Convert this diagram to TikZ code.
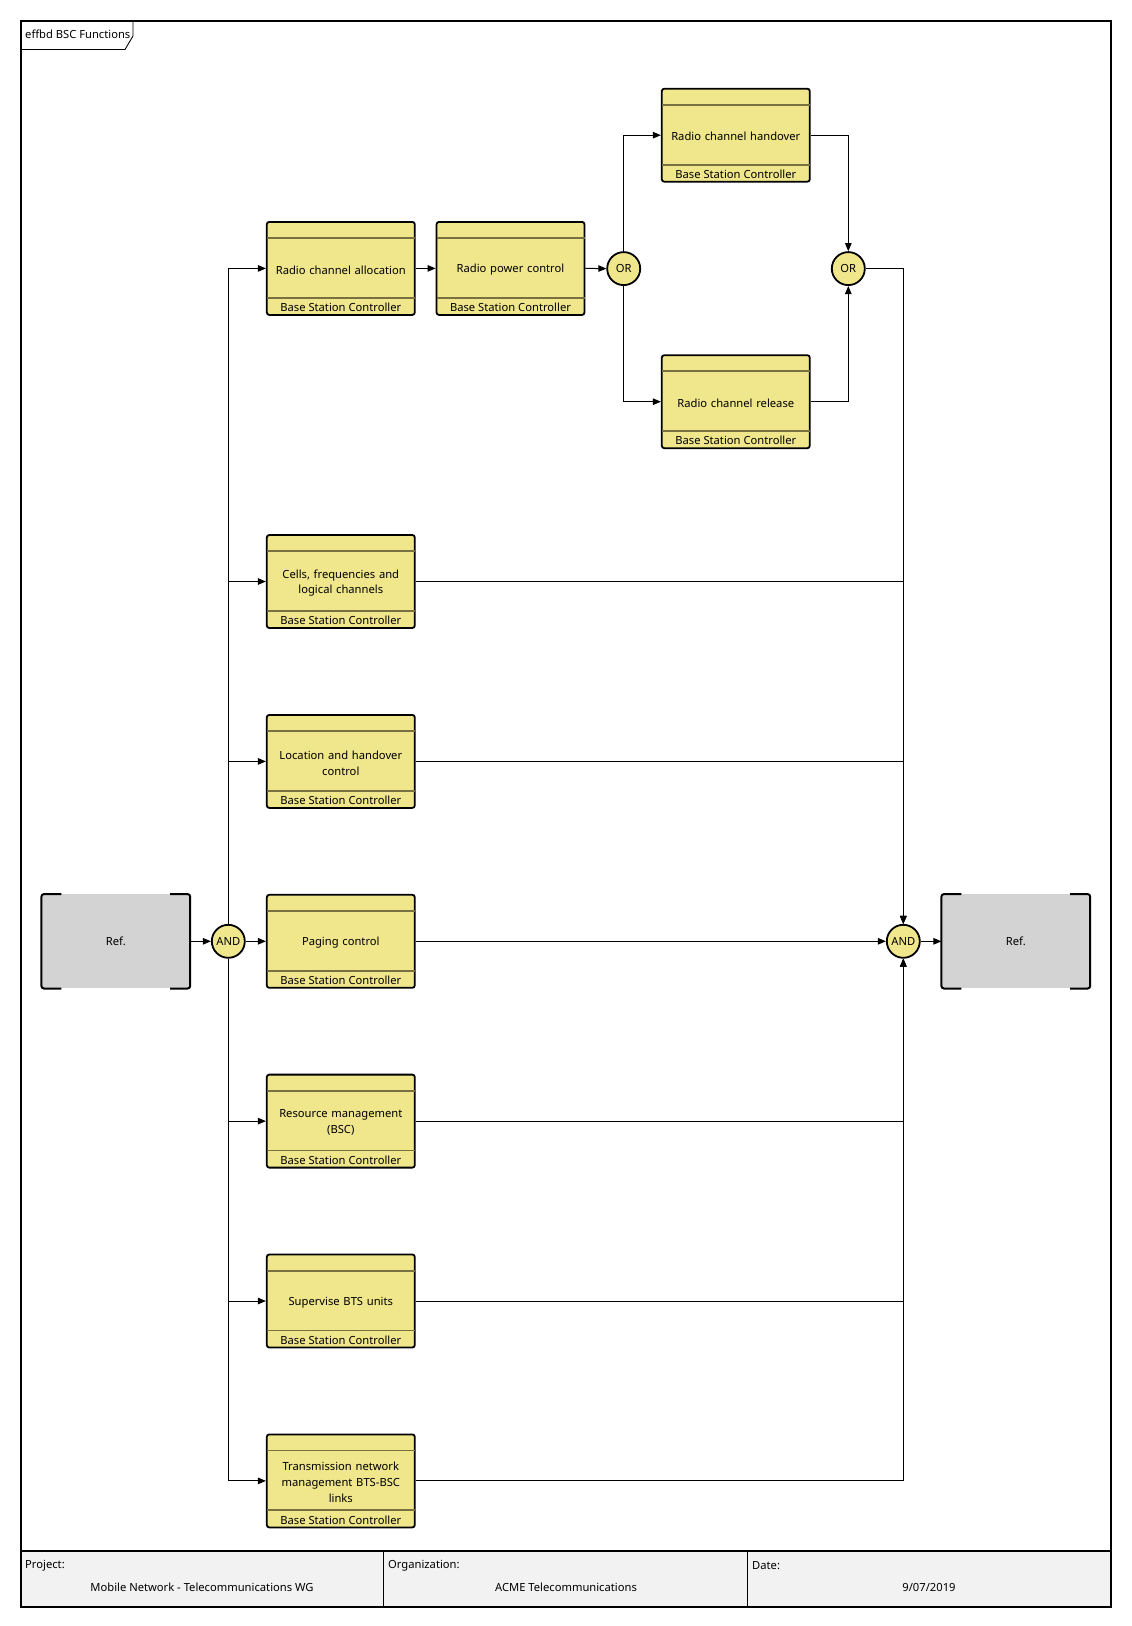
\documentclass[tikz,border=0pt]{standalone}
\usepackage{fontspec}
\setmainfont{Noto Sans}
\usetikzlibrary{arrows.meta}
\definecolor{fnfill}{RGB}{240,230,140}
\definecolor{divcol}{RGB}{120,112,64}
\definecolor{refgray}{RGB}{211,211,211}
\definecolor{footgray}{RGB}{242,242,242}
\newcommand\fnfont{\fontsize{11.2}{15.8}\selectfont}
\tikzset{
  fnbox/.style={draw, line width=1.8pt, rounded corners=2.5pt, fill=fnfill,
    minimum width=148pt, minimum height=93pt, inner sep=0pt},
  fntext/.style={inner sep=0pt, text width=140pt, align=center, font=\fnfont},
  divline/.style={draw=divcol, line width=1.8pt},
  gate/.style={circle, draw, line width=1.8pt, fill=fnfill, minimum size=33pt,
    inner sep=0pt, font=\fnfont},
  refbox/.style={fill=refgray, minimum width=148.3pt, minimum height=94pt,
    inner sep=0pt, font=\fnfont},
  bracket/.style={line width=2pt, rounded corners=2.5pt},
  conn/.style={line width=1pt},
  arr/.style={conn, -{Triangle[length=8pt,width=6.5pt]}},
  foot/.style={font=\fnfont, inner sep=0pt}
}
\newcommand\fnboxdraw[4]{%
  \node[fnbox] (#1) at (#2,#3) {};
  \node[fntext] (#1-txt) at ([yshift=-1.5pt]#1.center) {#4};
  \draw[divline] ([xshift=0.9pt,yshift=-17pt]#1.north west) -- ([xshift=-0.9pt,yshift=-17pt]#1.north east);
  \draw[divline] ([xshift=0.9pt,yshift=18pt]#1.south west) -- ([xshift=-0.9pt,yshift=18pt]#1.south east);
  \node[font=\fnfont, inner sep=0pt] (#1-org) at ([yshift=8.5pt]#1.south) {Base Station Controller};
}
\newcommand\refdraw[1]{%
  \draw[bracket] ([xshift=20pt]#1.north west) -- (#1.north west) -- (#1.south west) -- ([xshift=20pt]#1.south west);
  \draw[bracket] ([xshift=-20pt]#1.north east) -- (#1.north east) -- (#1.south east) -- ([xshift=-20pt]#1.south east);
}
\begin{document}
\begin{tikzpicture}[x=1pt,y=-1pt]
\useasboundingbox (0,0) rectangle (1132,1626);
% footer
\fill[footgray] (20.7,1551) rectangle (1111,1606.5);
\draw[line width=1.8pt] (20.7,1551) -- (1111,1551);
\draw[line width=1.2pt] (383.5,1551) -- (383.5,1606.5);
\draw[line width=1.2pt] (747.4,1551) -- (747.4,1606.5);
\draw[line width=2pt] (20.7,20.7) rectangle (1111,1606.5);
% title tab
\draw[line width=0.9pt] (20.7,49.5) -- (125,49.5) -- (133,36) -- (133,20.7);
\node[foot, anchor=west] (title) at (25,34.5) {effbd BSC Functions};
% footer texts
\node[foot, anchor=west] (projl) at (25,1565.5) {Project:};
\node[foot] (projv) at (202,1587) {Mobile Network - Telecommunications WG};
\node[foot, anchor=west] (orgl) at (388,1565.5) {Organization:};
\node[foot] (orgv) at (566,1587) {ACME Telecommunications};
\node[foot, anchor=west] (datel) at (752,1565.5) {Date:};
\node[foot] (datev) at (929,1587) {9/07/2019};

% function boxes
\fnboxdraw{alloc}{340.8}{268.4}{Radio channel allocation}
\fnboxdraw{power}{510.5}{268.4}{Radio power control}
\fnboxdraw{hand}{735.8}{135.2}{Radio channel handover}
\fnboxdraw{rel}{735.8}{401.7}{Radio channel release}
\fnboxdraw{cells}{340.8}{581.5}{Cells, frequencies and\\logical channels}
\fnboxdraw{loc}{340.8}{761.4}{Location and handover\\control}
\fnboxdraw{paging}{340.8}{941.3}{Paging control}
\fnboxdraw{res}{340.8}{1121.1}{Resource management\\(BSC)}
\fnboxdraw{sup}{340.8}{1301.0}{Supervise BTS units}
\fnboxdraw{trans}{340.8}{1480.9}{Transmission network\\management BTS-BSC\\links}

% gates
\node[gate] (or1) at (623.7,268.6) {OR};
\node[gate] (or2) at (848.3,268.6) {OR};
\node[gate] (andL) at (228.3,941.3) {AND};
\node[gate] (andR) at (903.3,941.3) {AND};

% refs
\node[refbox] (refL) at (115.8,941.3) {Ref.};
\refdraw{refL}
\node[refbox] (refR) at (1015.8,941.3) {Ref.};
\refdraw{refR}

% connectors
\draw[arr] (refL.east) -- (andL.west);
\draw[arr] (andL.east) -- (paging.west);
\draw[arr] (andL.north) |- (alloc.west);
\draw[arr] (andL.north) |- (cells.west);
\draw[arr] (andL.north) |- (loc.west);
\draw[arr] (andL.south) |- (res.west);
\draw[arr] (andL.south) |- (sup.west);
\draw[arr] (andL.south) |- (trans.west);
\draw[arr] (alloc.east) -- (power.west);
\draw[arr] (power.east) -- (or1.west);
\draw[arr] (or1.north) |- (hand.west);
\draw[arr] (or1.south) |- (rel.west);
\draw[arr] (hand.east) -| (or2.north);
\draw[arr] (rel.east) -| (or2.south);
\draw[arr] (or2.east) -| (andR.north);
\draw[arr] (cells.east) -| (andR.north);
\draw[arr] (loc.east) -| (andR.north);
\draw[arr] (paging.east) -- (andR.west);
\draw[arr] (res.east) -| (andR.south);
\draw[arr] (sup.east) -| (andR.south);
\draw[arr] (trans.east) -| (andR.south);
\draw[arr] (andR.east) -- (refR.west);
\end{tikzpicture}
\end{document}
